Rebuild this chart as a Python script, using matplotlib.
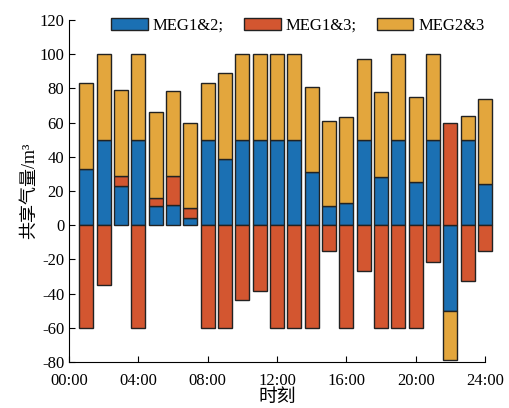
import numpy as np
import matplotlib
matplotlib.use("Agg")
import matplotlib.pyplot as plt

plt.rcParams['font.family'] = ['Liberation Serif', 'Noto Sans CJK SC']
plt.rcParams['axes.unicode_minus'] = False

# 时段 1..24
hours = np.arange(1, 25)
meg12 = [33, 50, 23, 50, 11, 12, 4, 50, 39, 50, 50, 50,
         50, 31, 11, 13, 50, 28, 50, 25, 50, -50, 50, 24]
meg13 = [-60, -35, 6, -60, 5, 16.6, 6, -60, -60, -44, -38.4, -60,
         -60, -60, -14.8, -60, -26.5, -60, -60, -60, -21.3, 60, -32.6, -15.3]
meg23 = [50, 50, 50, 50, 50, 50, 50, 33, 50, 50, 50, 50,
         50, 50, 50, 50, 47, 50, 50, 50, 50, -29, 14, 50]
labels = ['MEG1&2;', 'MEG1&3;', 'MEG2&3']
colors = ['#1b70b3', '#d35630', '#e3a63d']
xticks = [0, 4, 8, 12, 16, 20, 24]
xticklabels = ['00:00', '04:00', '08:00', '12:00', '16:00', '20:00', '24:00']

fig = plt.figure(figsize=(5.09, 4.08), dpi=100)
ax = fig.add_axes([0.1356, 0.1127, 0.8174, 0.8383])

pos_bottom = np.zeros(24)
neg_bottom = np.zeros(24)
for vals, lab, col in zip([meg12, meg13, meg23], labels, colors):
    v = np.array(vals, dtype=float)
    bottom = np.where(v >= 0, pos_bottom, neg_bottom)
    ax.bar(hours, v, width=0.8, bottom=bottom, color=col, edgecolor='#222222',
           linewidth=1.0, label=lab, clip_on=False)
    pos_bottom += np.where(v >= 0, v, 0)
    neg_bottom += np.where(v < 0, v, 0)

ax.set_xlim(0, 24)
ax.set_ylim(-80, 120)
ax.set_xticks(xticks)
ax.set_xticklabels(xticklabels)
ax.set_yticks(np.arange(-80, 121, 20))
ax.tick_params(direction='in', labelsize=12, length=4)
ax.tick_params(axis='x', pad=8)
ax.spines['top'].set_visible(False)
ax.spines['right'].set_visible(False)
ax.set_xlabel('时刻', fontsize=13.5, labelpad=0)
ax.set_ylabel('共享气量/m³', fontsize=13, labelpad=1)

ax.legend(loc='upper center', bbox_to_anchor=(0.55, 1.05), ncol=3, frameon=False,
          fontsize=12, handlelength=2.2, handleheight=0.7, columnspacing=1.2,
          handletextpad=0.3)

fig.savefig('out.png', dpi=100)
